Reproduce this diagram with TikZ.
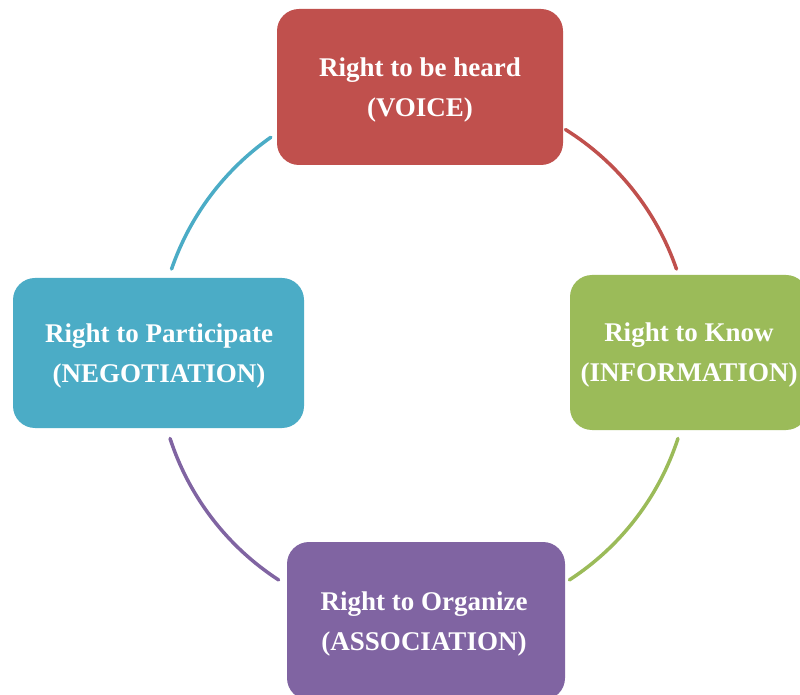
\documentclass[tikz,border=0pt]{standalone}
\usepackage{fontspec}
\setmainfont{Liberation Serif}
\definecolor{cred}{HTML}{C0504D}
\definecolor{cgreen}{HTML}{9BBB59}
\definecolor{cblue}{HTML}{4BACC6}
\definecolor{cpurple}{HTML}{8064A2}
\begin{document}
\begin{tikzpicture}[x=1pt,y=1pt,
  rbox/.style={rectangle, rounded corners=22pt, inner sep=0pt, text=white,
    font=\bfseries\fontsize{27}{40}\selectfont, align=center},
  ring/.style={line width=3.5pt, line cap=round}]
\useasboundingbox (0,0) rectangle (800,694);
\clip (0,0) rectangle (800,694);
\fill[white] (0,0) rectangle (800,694);
\coordinate (ctr) at (424,338);
\draw[ring, cblue]   ([shift={(125:267pt)}]ctr) arc[start angle=125, end angle=161, radius=267pt];
\draw[ring, cred]    ([shift={(58:267pt)}]ctr) arc[start angle=58, end angle=19, radius=267pt];
\draw[ring, cgreen]  ([shift={(-18:267pt)}]ctr) arc[start angle=-18, end angle=-57, radius=267pt];
\draw[ring, cpurple] ([shift={(198:267pt)}]ctr) arc[start angle=198, end angle=237, radius=267pt];
\node[rbox, fill=cred, minimum width=286pt, minimum height=156pt] (voice) at (420,607) {};
\node[text=white, font=\bfseries\fontsize{27}{40}\selectfont, align=center] (voicet) at (420,604)
  {Right to be heard\\(VOICE)};
\node[rbox, fill=cgreen, minimum width=238pt, minimum height=155pt] (info) at (689,341.5) {};
\node[text=white, font=\bfseries\fontsize{27}{40}\selectfont, align=center] (infot) at (689,339)
  {Right to Know\\(INFORMATION)};
\node[rbox, fill=cblue, minimum width=291pt, minimum height=150pt] (nego) at (158.5,341) {};
\node[text=white, font=\bfseries\fontsize{27}{40}\selectfont, align=center] (negot) at (159,338)
  {Right to Participate\\(NEGOTIATION)};
\node[rbox, fill=cpurple, minimum width=278pt, minimum height=158pt] (assoc) at (426,73) {};
\node[text=white, font=\bfseries\fontsize{27}{40}\selectfont, align=center] (assoct) at (424,70)
  {Right to Organize\\(ASSOCIATION)};
\end{tikzpicture}
\end{document}
